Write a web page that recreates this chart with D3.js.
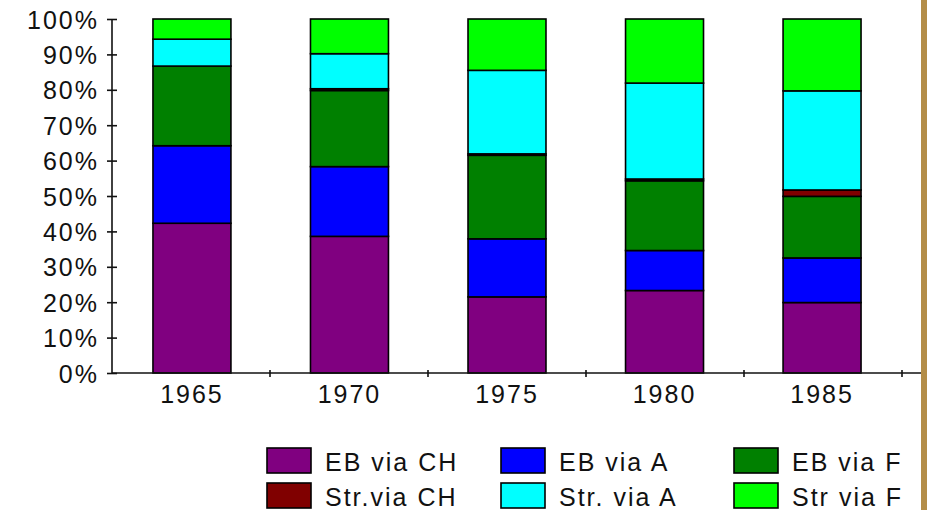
<!DOCTYPE html>
<html>
<head>
<meta charset="utf-8">
<script src="https://cdn.jsdelivr.net/npm/d3@7"></script>
<style>
  html, body { margin: 0; padding: 0; background: #fff; }
  svg { display: block; }
  text { font-family: "Liberation Sans", Arial, sans-serif; fill: #111; }
</style>
</head>
<body>
<svg id="chart" width="927" height="510"></svg>
<script>
// ---- data ----
const years = ["1965", "1970", "1975", "1980", "1985"];
const seriesNames = ["EB via CH", "EB via A", "EB via F", "Str.via CH", "Str. via A", "Str via F"];
const seriesColors = ["#800080", "#0000ff", "#008000", "#800000", "#00ffff", "#00ff00"];
const ebViaCH  = [42.3, 38.6, 21.5, 23.3, 19.9];
const ebViaA   = [21.9, 19.7, 16.4, 11.3, 12.6];
const ebViaF   = [22.5, 21.5, 23.6, 19.7, 17.4];
const strViaCH = [0.0, 0.5, 0.4, 0.5, 1.8];
const strViaA  = [7.6, 9.9, 23.6, 27.1, 28.0];
const strViaF  = [5.7, 9.8, 14.5, 18.1, 20.3];
const yTicks = [0, 10, 20, 30, 40, 50, 60, 70, 80, 90, 100];

const seriesValues = [ebViaCH, ebViaA, ebViaF, strViaCH, strViaA, strViaF];

// ---- layout ----
const svg = d3.select("#chart");
const mLeft = 112, mRight = 902, mTop = 19, mBottom = 373;

const x = d3.scaleBand().domain(years).range([mLeft, mRight]).paddingInner(0.505).paddingOuter(0.26);
const xCat = d3.scaleBand().domain(years).range([mLeft, mRight]).padding(0);
const y = d3.scaleLinear().domain([0, 100]).range([mBottom, mTop]);

// table for stacking
const table = years.map((yr, i) => {
  const row = { year: yr };
  const total = d3.sum(seriesValues, s => s[i]);
  seriesNames.forEach((n, j) => row[n] = seriesValues[j][i] / total * 100);
  return row;
});
const stacked = d3.stack().keys(seriesNames)(table);

// bars
svg.append("g").selectAll("g")
  .data(stacked)
  .join("g")
  .attr("fill", (d, i) => seriesColors[i])
  .selectAll("rect")
  .data(d => d)
  .join("rect")
  .attr("x", d => x(d.data.year))
  .attr("width", x.bandwidth())
  .attr("y", d => y(d[1]))
  .attr("height", d => y(d[0]) - y(d[1]))
  .attr("stroke", "#000")
  .attr("stroke-width", 1.6);

// y axis
const yAxis = svg.append("g")
  .attr("transform", `translate(${mLeft},0)`)
  .call(d3.axisLeft(y).tickValues(yTicks).tickFormat(d => d + "%").tickSize(5).tickPadding(8));
yAxis.select(".domain").attr("stroke", "#111").attr("stroke-width", 1.6).attr("d", `M0,${mTop}V${mBottom}`);
yAxis.selectAll(".tick line").attr("x1", -5).attr("x2", 5).attr("stroke", "#111").attr("stroke-width", 1.6);
yAxis.selectAll(".tick text")
  .style("font-size", "25px").style("letter-spacing", "2px")
  .style("font-family", "'Liberation Sans', Arial, sans-serif")
  .attr("dy", "0.36em").attr("fill", "#222");

// x axis
const xAxis = svg.append("g").attr("transform", `translate(0,${mBottom})`);
xAxis.append("line").attr("x1", mLeft).attr("x2", 921).attr("y1", 0).attr("y2", 0)
  .attr("stroke", "#111").attr("stroke-width", 1.6);
xAxis.selectAll("line.tk")
  .data(years)
  .join("line")
  .attr("class", "tk")
  .attr("x1", d => xCat(d) + xCat.bandwidth())
  .attr("x2", d => xCat(d) + xCat.bandwidth())
  .attr("y1", -3).attr("y2", 4)
  .attr("stroke", "#111").attr("stroke-width", 1.6);
xAxis.selectAll("text")
  .data(years)
  .join("text")
  .attr("x", d => x(d) + x.bandwidth() / 2)
  .attr("y", 30)
  .attr("text-anchor", "middle")
  .attr("fill", "#222")
  .style("font-size", "25px").style("letter-spacing", "2px")
  .text(d => d);

// legend
const legendCols = [267, 501, 734];
const legendRows = [448, 483];
const legend = svg.append("g");
seriesNames.forEach((n, i) => {
  const col = i % 3, row = Math.floor(i / 3);
  const g = legend.append("g").attr("transform", `translate(${legendCols[col]},${legendRows[row]})`);
  g.append("rect").attr("width", 44).attr("height", 25)
    .attr("fill", seriesColors[i]).attr("stroke", "#000").attr("stroke-width", 1.6);
  g.append("text").attr("x", 58).attr("y", 23)
    .style("font-size", "25px").style("letter-spacing", "2px").attr("fill", "#111")
    .text(n);
});

// right border strip
svg.append("rect").attr("x", 921).attr("y", 0).attr("width", 6).attr("height", 510).attr("fill", "#b38d48");
</script>
</body>
</html>
